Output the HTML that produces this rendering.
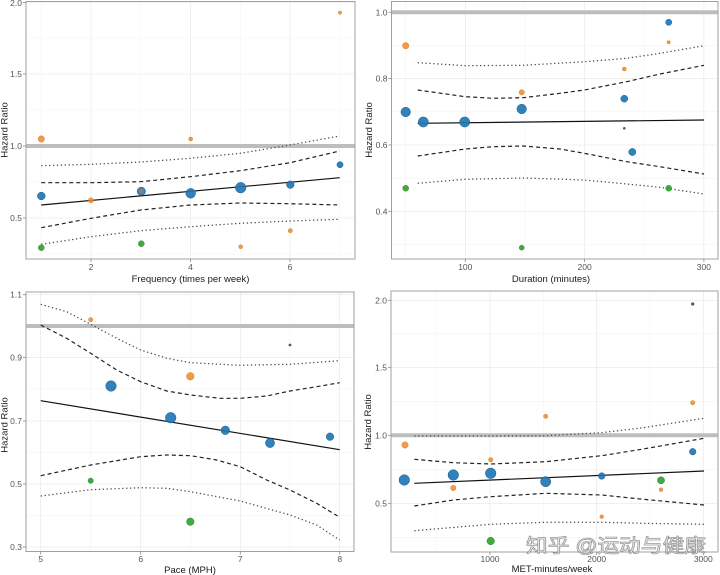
<!DOCTYPE html>
<html><head><meta charset="utf-8"><style>
html,body{margin:0;padding:0;background:#fff;}
svg{display:block;}
.tk{font-family:"Liberation Sans",sans-serif;font-size:8.5px;fill:#555;}
.tt{font-family:"Liberation Sans",sans-serif;font-size:9.5px;fill:#1a1a1a;}
.gM{stroke:#e6e6e6;stroke-width:0.6;}
.gm{stroke:#f2f2f2;stroke-width:0.5;}
.bd{fill:none;stroke:#a0a0a0;stroke-width:1;}
.tm{stroke:#888;stroke-width:0.8;}
.ref{stroke:#bdbdbd;stroke-width:4;}
.sl{fill:none;stroke:#111;stroke-width:1.2;}
.ds{fill:none;stroke:#222;stroke-width:1.2;stroke-dasharray:4 3;}
.dt{fill:none;stroke:#4a4a4a;stroke-width:1.25;stroke-dasharray:1.3 2.6;}
.b{fill:#1f77b4;fill-opacity:0.92;stroke:#1a5f8f;stroke-width:0.5;}
.o{fill:#f08a24;fill-opacity:0.85;stroke:#c8741f;stroke-width:0.4;}
.g{fill:#2ca02c;fill-opacity:0.9;stroke:#227a22;stroke-width:0.4;}
.k{fill:#555;}
</style></head><body>
<svg width="720" height="575" viewBox="0 0 720 575" xmlns="http://www.w3.org/2000/svg">
<rect width="720" height="575" fill="#fff"/>

<!-- ===== Panel 1 ===== -->
<g>
<line class="gm" x1="26" x2="355" y1="254" y2="254"/><line class="gm" x1="26" x2="355" y1="182" y2="182"/><line class="gm" x1="26" x2="355" y1="110" y2="110"/><line class="gm" x1="26" x2="355" y1="38" y2="38"/>
<line class="gm" x1="41.25" x2="41.25" y1="2" y2="259"/><line class="gm" x1="140.75" x2="140.75" y1="2" y2="259"/><line class="gm" x1="240.25" x2="240.25" y1="2" y2="259"/><line class="gm" x1="339.75" x2="339.75" y1="2" y2="259"/>
<line class="gM" x1="26" x2="355" y1="218" y2="218"/><line class="gM" x1="26" x2="355" y1="146" y2="146"/><line class="gM" x1="26" x2="355" y1="74" y2="74"/><line class="gM" x1="26" x2="355" y1="2.5" y2="2.5"/>
<line class="gM" x1="91" x2="91" y1="2" y2="259"/><line class="gM" x1="190.5" x2="190.5" y1="2" y2="259"/><line class="gM" x1="290" x2="290" y1="2" y2="259"/>
<line class="ref" x1="26" x2="355" y1="146" y2="146"/>
<polyline class="dt" points="41.25,165.7 91,164.3 140.75,162 190.5,158.3 240.25,153.3 290,145 339.75,136"/>
<polyline class="dt" points="41.25,244.3 91,236.7 140.75,230.7 190.5,226.7 240.25,223.3 290,221 339.75,219.3"/>
<polyline class="ds" points="41.25,182.7 91,182.7 140.75,181.7 190.5,176.7 240.25,170.7 290,162.7 339.75,151"/>
<polyline class="ds" points="41.25,227.7 91,218.3 140.75,210 190.5,205 240.25,203 290,203.7 339.75,205"/>
<line class="sl" x1="41.25" y1="205" x2="339.75" y2="177.7"/>
<circle class="o" cx="41.3" cy="139" r="3.2"/>
<circle class="b" cx="41.3" cy="196" r="3.9"/>
<circle class="g" cx="41.3" cy="247.7" r="3"/>
<circle class="o" cx="91" cy="200.3" r="2.6"/>
<circle class="b" cx="141.3" cy="191.3" r="4.2"/>
<circle fill="#8a7f7a" cx="141.3" cy="191.3" r="2.8"/>
<circle class="g" cx="141.3" cy="243.7" r="3"/>
<circle class="o" cx="190.7" cy="139" r="2"/>
<circle class="b" cx="190.7" cy="193.3" r="4.9"/>
<circle class="b" cx="240.7" cy="187.7" r="5.3"/>
<circle class="o" cx="240.7" cy="246.7" r="2"/>
<circle class="b" cx="290.3" cy="184.7" r="3.8"/>
<circle class="o" cx="290.3" cy="230.7" r="2.2"/>
<circle class="b" cx="340" cy="164.7" r="3.1"/>
<circle class="o" cx="340" cy="12.7" r="1.7"/>
<rect class="bd" x="26" y="1.5" width="329" height="257.5"/>
<line class="tm" x1="23" x2="26" y1="218" y2="218"/><line class="tm" x1="23" x2="26" y1="146" y2="146"/><line class="tm" x1="23" x2="26" y1="74" y2="74"/><line class="tm" x1="23" x2="26" y1="2.5" y2="2.5"/>
<line class="tm" x1="91" x2="91" y1="259" y2="262"/><line class="tm" x1="190.5" x2="190.5" y1="259" y2="262"/><line class="tm" x1="290" x2="290" y1="259" y2="262"/>
<text class="tk" x="22" y="221" text-anchor="end">0.5</text><text class="tk" x="22" y="149" text-anchor="end">1.0</text><text class="tk" x="22" y="77" text-anchor="end">1.5</text><text class="tk" x="22" y="6" text-anchor="end">2.0</text>
<text class="tk" x="91" y="270" text-anchor="middle">2</text><text class="tk" x="190.5" y="270" text-anchor="middle">4</text><text class="tk" x="290" y="270" text-anchor="middle">6</text>
<text class="tt" x="190.5" y="282" text-anchor="middle">Frequency (times per week)</text>
<text class="tt" transform="translate(7.5,130) rotate(-90)" text-anchor="middle">Hazard Ratio</text>
</g>

<!-- ===== Panel 2 ===== -->
<g>
<line class="gm" x1="391.5" x2="718" y1="45.5" y2="45.5"/><line class="gm" x1="391.5" x2="718" y1="111.8" y2="111.8"/><line class="gm" x1="391.5" x2="718" y1="178.2" y2="178.2"/><line class="gm" x1="391.5" x2="718" y1="244.5" y2="244.5"/>
<line class="gm" x1="405.7" x2="405.7" y1="2" y2="259"/><line class="gm" x1="525" x2="525" y1="2" y2="259"/><line class="gm" x1="644.3" x2="644.3" y1="2" y2="259"/>
<line class="gM" x1="391.5" x2="718" y1="78.6" y2="78.6"/><line class="gM" x1="391.5" x2="718" y1="145" y2="145"/><line class="gM" x1="391.5" x2="718" y1="211.3" y2="211.3"/>
<line class="gM" x1="465.3" x2="465.3" y1="2" y2="259"/><line class="gM" x1="584.6" x2="584.6" y1="2" y2="259"/><line class="gM" x1="703.9" x2="703.9" y1="2" y2="259"/>
<line class="ref" x1="391.5" x2="718" y1="12.3" y2="12.3"/>
<polyline class="dt" points="417.7,62.7 465.3,65.7 523.3,65.3 584.3,61.7 626.7,58.3 660,53.3 704,45.7"/>
<polyline class="dt" points="417.7,183.3 465.3,179.3 523.3,178 584.3,180 626.7,184 660,187.3 704,194"/>
<polyline class="ds" points="417.7,90 465.3,96.7 493.3,98.3 523.3,97.7 560,93.3 584.3,90 626.7,81.7 660,74 704,65.3"/>
<polyline class="ds" points="417.7,156 465.3,149 493.3,146.7 523.3,146 560,149 584.3,153.3 626.7,161.7 660,166.7 704,174"/>
<line class="sl" x1="417.7" y1="123.3" x2="704" y2="120"/>
<circle class="o" cx="405.7" cy="45.7" r="3.2"/>
<circle class="b" cx="405.7" cy="112" r="4.8"/>
<circle class="g" cx="405.7" cy="188.3" r="3"/>
<circle class="b" cx="423.3" cy="122" r="5.1"/>
<circle class="b" cx="464.7" cy="122" r="5.1"/>
<circle class="o" cx="521.7" cy="92.3" r="2.7"/>
<circle class="b" cx="521.7" cy="109" r="4.8"/>
<circle class="g" cx="521.7" cy="247.7" r="2.5"/>
<circle class="o" cx="624.3" cy="69" r="2"/>
<circle class="b" cx="624.3" cy="98.7" r="3.5"/>
<circle class="k" cx="624.3" cy="128.3" r="1.3"/>
<circle class="b" cx="632.3" cy="152" r="3.6"/>
<circle class="b" cx="668.7" cy="22.3" r="3.1"/>
<circle class="o" cx="668.7" cy="42.3" r="1.7"/>
<circle class="g" cx="668.7" cy="188.3" r="3"/>
<rect class="bd" x="391.5" y="1.5" width="326.5" height="257.5"/>
<line class="tm" x1="388.5" x2="391.5" y1="12.3" y2="12.3"/><line class="tm" x1="388.5" x2="391.5" y1="78.6" y2="78.6"/><line class="tm" x1="388.5" x2="391.5" y1="145" y2="145"/><line class="tm" x1="388.5" x2="391.5" y1="211.3" y2="211.3"/>
<line class="tm" x1="465.3" x2="465.3" y1="259" y2="262"/><line class="tm" x1="584.6" x2="584.6" y1="259" y2="262"/><line class="tm" x1="703.9" x2="703.9" y1="259" y2="262"/>
<text class="tk" x="387.5" y="15.3" text-anchor="end">1.0</text><text class="tk" x="387.5" y="81.6" text-anchor="end">0.8</text><text class="tk" x="387.5" y="148" text-anchor="end">0.6</text><text class="tk" x="387.5" y="214.3" text-anchor="end">0.4</text>
<text class="tk" x="465.3" y="270" text-anchor="middle">100</text><text class="tk" x="584.6" y="270" text-anchor="middle">200</text><text class="tk" x="703.9" y="270" text-anchor="middle">300</text>
<text class="tt" x="551" y="282" text-anchor="middle">Duration (minutes)</text>
<text class="tt" transform="translate(372,130) rotate(-90)" text-anchor="middle">Hazard Ratio</text>
</g>

<!-- ===== Panel 3 ===== -->
<g>
<line class="gm" x1="26" x2="354" y1="389" y2="389"/><line class="gm" x1="26" x2="354" y1="452.5" y2="452.5"/><line class="gm" x1="26" x2="354" y1="515.5" y2="515.5"/>
<line class="gm" x1="90.7" x2="90.7" y1="292" y2="551.5"/><line class="gm" x1="190.5" x2="190.5" y1="292" y2="551.5"/><line class="gm" x1="290" x2="290" y1="292" y2="551.5"/>
<line class="gM" x1="26" x2="354" y1="294.7" y2="294.7"/><line class="gM" x1="26" x2="354" y1="357.3" y2="357.3"/><line class="gM" x1="26" x2="354" y1="421" y2="421"/><line class="gM" x1="26" x2="354" y1="484" y2="484"/><line class="gM" x1="26" x2="354" y1="547" y2="547"/>
<line class="gM" x1="40.7" x2="40.7" y1="292" y2="551.5"/><line class="gM" x1="140.7" x2="140.7" y1="292" y2="551.5"/><line class="gM" x1="240.3" x2="240.3" y1="292" y2="551.5"/><line class="gM" x1="339.7" x2="339.7" y1="292" y2="551.5"/>
<line class="ref" x1="26" x2="354" y1="326" y2="326"/>
<polyline class="dt" points="40.7,304.3 66.7,311.7 90.7,324.3 116.7,338.3 140.7,350 166.7,358.3 190.7,362.7 240.3,365.3 290,364.3 339.7,360.7"/>
<polyline class="dt" points="40.7,496 90.7,489.7 140.7,487.7 166.7,488.3 190.7,491.7 240.3,501 290,515 316.7,525 339.7,540"/>
<polyline class="ds" points="40.7,325 66.7,338.3 90.7,353.3 116.7,370 140.7,381.7 166.7,391 190.7,395 220,398.3 240.3,398.3 266.7,396 290,391 316.7,386.7 339.7,382.7"/>
<polyline class="ds" points="40.7,475.7 90.7,465 140.7,456.7 166.7,455 190.7,455.7 216.7,460 240.3,466.7 266.7,480 290,490 316.7,503.3 339.7,517.3"/>
<line class="sl" x1="40.7" y1="400.7" x2="339.7" y2="449.7"/>
<circle class="o" cx="90.7" cy="319.7" r="2.2"/>
<circle class="b" cx="111" cy="386" r="5.3"/>
<circle class="g" cx="90.7" cy="480.7" r="2.7"/>
<circle class="o" cx="190.3" cy="376.3" r="3.8"/>
<circle class="b" cx="170.7" cy="417.7" r="5.3"/>
<circle class="g" cx="190.3" cy="521.7" r="3.8"/>
<circle class="b" cx="225.3" cy="430.3" r="4.3"/>
<circle class="b" cx="270" cy="443" r="4.6"/>
<circle class="b" cx="330" cy="436.7" r="3.8"/>
<circle class="k" cx="290" cy="345" r="1.4"/>
<rect class="bd" x="26" y="292" width="328" height="259.5"/>
<line class="tm" x1="23" x2="26" y1="294.7" y2="294.7"/><line class="tm" x1="23" x2="26" y1="357.3" y2="357.3"/><line class="tm" x1="23" x2="26" y1="421" y2="421"/><line class="tm" x1="23" x2="26" y1="484" y2="484"/><line class="tm" x1="23" x2="26" y1="547" y2="547"/>
<line class="tm" x1="40.7" x2="40.7" y1="551.5" y2="554.5"/><line class="tm" x1="140.7" x2="140.7" y1="551.5" y2="554.5"/><line class="tm" x1="240.3" x2="240.3" y1="551.5" y2="554.5"/><line class="tm" x1="339.7" x2="339.7" y1="551.5" y2="554.5"/>
<text class="tk" x="22" y="297.7" text-anchor="end">1.1</text><text class="tk" x="22" y="360.3" text-anchor="end">0.9</text><text class="tk" x="22" y="424" text-anchor="end">0.7</text><text class="tk" x="22" y="487" text-anchor="end">0.5</text><text class="tk" x="22" y="550" text-anchor="end">0.3</text>
<text class="tk" x="40.7" y="562" text-anchor="middle">5</text><text class="tk" x="140.7" y="562" text-anchor="middle">6</text><text class="tk" x="240.3" y="562" text-anchor="middle">7</text><text class="tk" x="339.7" y="562" text-anchor="middle">8</text>
<text class="tt" x="190" y="573" text-anchor="middle">Pace (MPH)</text>
<text class="tt" transform="translate(7.5,425) rotate(-90)" text-anchor="middle">Hazard Ratio</text>
</g>

<!-- ===== Panel 4 ===== -->
<g>
<line class="gm" x1="391" x2="718" y1="333.8" y2="333.8"/><line class="gm" x1="391" x2="718" y1="401.3" y2="401.3"/><line class="gm" x1="391" x2="718" y1="469.3" y2="469.3"/><line class="gm" x1="391" x2="718" y1="537.3" y2="537.3"/>
<line class="gm" x1="436.7" x2="436.7" y1="291" y2="552"/><line class="gm" x1="543.3" x2="543.3" y1="291" y2="552"/><line class="gm" x1="650" x2="650" y1="291" y2="552"/>
<line class="gM" x1="391" x2="718" y1="300.3" y2="300.3"/><line class="gM" x1="391" x2="718" y1="367.3" y2="367.3"/><line class="gM" x1="391" x2="718" y1="503.3" y2="503.3"/>
<line class="gM" x1="490" x2="490" y1="291" y2="552"/><line class="gM" x1="596.7" x2="596.7" y1="291" y2="552"/><line class="gM" x1="703.3" x2="703.3" y1="291" y2="552"/>
<line class="ref" x1="391" x2="718" y1="435.3" y2="435.3"/>
<polyline class="dt" points="414.3,436 490.7,436 545.7,435.7 601.7,432.7 643.3,427.7 704,418.3"/>
<polyline class="dt" points="414.3,530.7 490.7,524.3 545.7,522.3 601.7,522.3 643.3,523.3 704,524.3"/>
<polyline class="ds" points="414.3,459.3 453.3,462.7 490.7,464 545.7,461.7 601.7,455.7 643.3,449 704,438.3"/>
<polyline class="ds" points="414.3,506 453.3,500 490.7,496.7 545.7,493.3 601.7,495 643.3,499.3 704,505"/>
<line class="sl" x1="414.3" y1="483.3" x2="704" y2="471"/>
<circle class="o" cx="405" cy="445" r="3.2"/>
<circle class="b" cx="404.3" cy="480" r="5.3"/>
<circle class="b" cx="453.3" cy="475" r="5.3"/>
<circle class="o" cx="453.3" cy="488" r="2.7"/>
<circle class="b" cx="490.7" cy="473.3" r="5.3"/>
<circle class="o" cx="490.7" cy="459.7" r="2.2"/>
<circle class="g" cx="490.7" cy="541" r="3.8"/>
<circle class="o" cx="545.7" cy="416.3" r="2.2"/>
<circle class="b" cx="545.7" cy="481.7" r="5.1"/>
<circle class="b" cx="601.7" cy="476" r="3.3"/>
<circle class="o" cx="601.7" cy="516.7" r="1.9"/>
<circle class="g" cx="661" cy="480.3" r="3.6"/>
<circle class="o" cx="661" cy="489.7" r="1.9"/>
<circle class="b" cx="692.7" cy="451.7" r="3.3"/>
<circle class="o" cx="692.7" cy="402.7" r="2.2"/>
<circle class="k" cx="692.7" cy="304" r="1.6"/>
<rect class="bd" x="391" y="291" width="327" height="261"/>
<line class="tm" x1="388" x2="391" y1="300.3" y2="300.3"/><line class="tm" x1="388" x2="391" y1="367.3" y2="367.3"/><line class="tm" x1="388" x2="391" y1="435.3" y2="435.3"/><line class="tm" x1="388" x2="391" y1="503.3" y2="503.3"/>
<line class="tm" x1="490" x2="490" y1="552" y2="555"/><line class="tm" x1="596.7" x2="596.7" y1="552" y2="555"/><line class="tm" x1="703.3" x2="703.3" y1="552" y2="555"/>
<text class="tk" x="387" y="303.3" text-anchor="end">2.0</text><text class="tk" x="387" y="370.3" text-anchor="end">1.5</text><text class="tk" x="387" y="438.3" text-anchor="end">1.0</text><text class="tk" x="387" y="506.3" text-anchor="end">0.5</text>
<text class="tk" x="490" y="562" text-anchor="middle">1000</text><text class="tk" x="596.7" y="562" text-anchor="middle">2000</text><text class="tk" x="703.3" y="562" text-anchor="middle">3000</text>
<text class="tt" x="552" y="572" text-anchor="middle">MET-minutes/week</text>
<text class="tt" transform="translate(371,422) rotate(-90)" text-anchor="middle">Hazard Ratio</text>
</g>

<!-- watermark -->
<text x="526" y="552" font-family="'Liberation Sans','Noto Sans CJK SC',sans-serif" font-size="19" textLength="180" lengthAdjust="spacingAndGlyphs" fill="rgba(255,255,255,0.85)" stroke="rgba(100,100,100,0.65)" stroke-width="0.8">知乎 @运动与健康</text>
</svg>
</body></html>
